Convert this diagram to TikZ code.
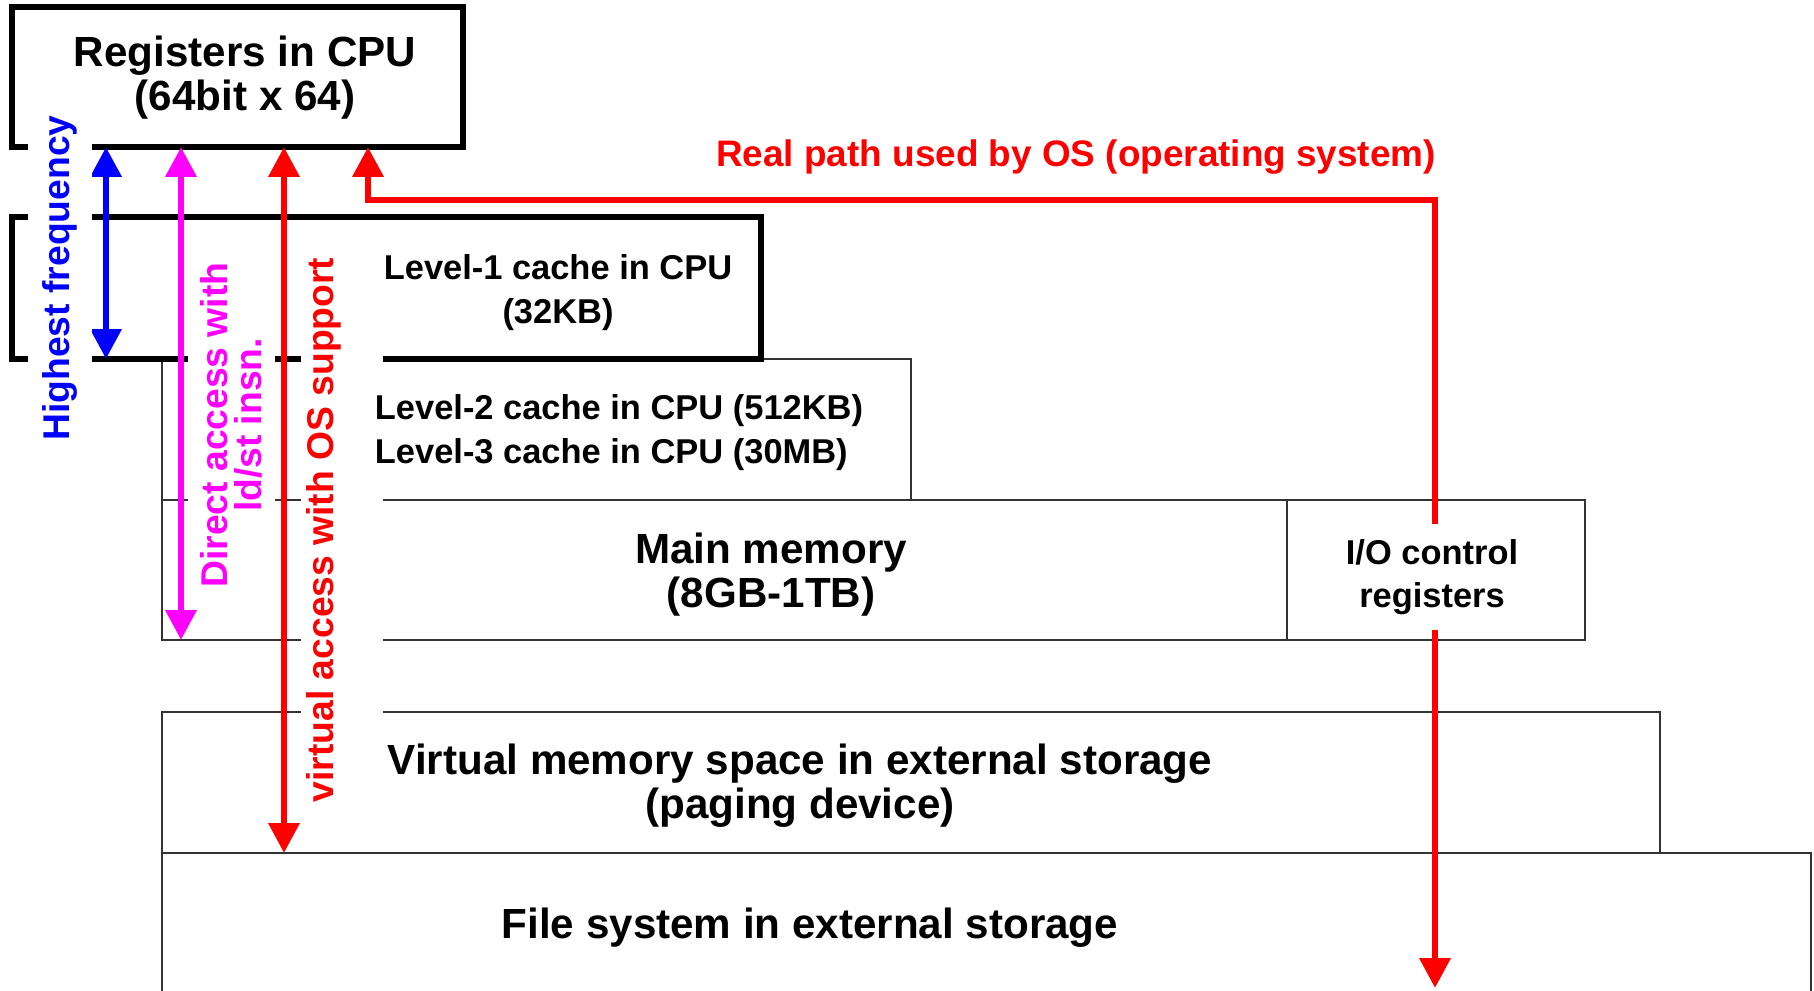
\documentclass[tikz,border=0pt]{standalone}
\usepackage{fontspec}
\setmainfont{Liberation Sans}
\usetikzlibrary{arrows.meta, positioning}
\definecolor{ldstpink}{RGB}{255,0,255}
\definecolor{pathred}{RGB}{255,0,0}
\definecolor{freqblue}{RGB}{0,0,255}

\begin{document}
\begin{tikzpicture}[
  cpubox/.style={draw=black, line width=1.6pt, anchor=north west, inner sep=0pt, outer sep=0pt},
  membox/.style={draw=black!80, line width=0.6pt, anchor=north west, inner sep=0pt, outer sep=0pt},
  bigtxt/.style={font=\fontsize{12}{12.5}\selectfont\bfseries, align=center},
  smalltxt/.style={font=\fontsize{9.8}{12.3}\selectfont\bfseries, align=center},
  sidetxt/.style={font=\fontsize{10.6}{9.6}\selectfont\bfseries, align=center, rotate=90, fill=white, inner xsep=0pt},
  dblarrow/.style={{Triangle[width=8.5pt,length=8.5pt]}-{Triangle[width=8.5pt,length=8.5pt]}, line width=1.9pt}
]

% Frame
\useasboundingbox (0,0) rectangle (18.14,9.90);
\clip (0,0) rectangle (18.14,9.90);

% --- Memory levels (thin boxes) ---
\node[membox, minimum width=7.49cm, minimum height=1.41cm] (l2) at (1.62,6.31) {};
\node[membox, minimum width=11.25cm, minimum height=1.40cm] (mainmem) at (1.62,4.90) {};
\node[membox, minimum width=2.98cm, minimum height=1.40cm] (io) at (12.87,4.90) {};
\node[membox, minimum width=14.98cm, minimum height=1.41cm] (vmem) at (1.62,2.78) {};
\node[membox, minimum width=16.49cm, minimum height=2.00cm] (fsys) at (1.62,1.37) {};

% --- CPU side (thick boxes) ---
\node[cpubox, minimum width=7.49cm, minimum height=1.42cm] (l1) at (0.12,7.73) {};
\node[cpubox, minimum width=4.51cm, minimum height=1.40cm] (regs) at (0.12,9.83) {};

% --- Access paths ---
\coordinate (bluex) at ([xshift=0.94cm]regs.south west);
\coordinate (pinkx) at ([xshift=1.69cm]regs.south west);
\coordinate (redx) at ([xshift=2.72cm]regs.south west);
\coordinate (osx) at ([xshift=3.56cm]regs.south west);
\coordinate (osturn) at (14.35,7.90);
\coordinate (osend) at (14.35,0.02);

\draw[dblarrow, freqblue] (bluex) -- (bluex |- l1.south);
\draw[dblarrow, ldstpink] (pinkx) -- (pinkx |- mainmem.south);
\draw[dblarrow, pathred] (redx) -- (redx |- fsys.north);
\draw[dblarrow, pathred] (osx) |- (osturn) -- (osend);

% rotated labels beside the arrows
\node[sidetxt, text=freqblue, minimum height=0.64cm] (freqtxt) at (0.60,7.12) {Highest frequency};
\node[sidetxt, text=ldstpink, minimum height=0.87cm] (directtxt) at (2.31,5.65) {Direct access with\\ld/st insn.};
\node[sidetxt, text=pathred, anchor=base, text depth=0.45cm, inner ysep=0.05cm] (virttxt) at (3.33,4.60) {virtual access with OS support};

% --- Labels ---
\node[bigtxt] (regstxt) at (2.45,9.12) {Registers in CPU\\(64bit x 64)};
\node[smalltxt] (l1txt) at (5.58,6.975) {Level-1 cache in CPU\\(32KB)};
\node[smalltxt, align=left] (l2txt) at (6.19,5.575) {Level-2 cache in CPU (512KB)\\Level-3 cache in CPU (30MB)};
\node[bigtxt] (maintxt) at (7.71,4.15) {Main memory\\(8GB-1TB)};
\node[smalltxt, fill=white, inner ysep=0.15cm] (iotxt) at (14.32,4.13) {I/O control\\registers};
\node[bigtxt] (vmemtxt) at (8.00,2.04) {Virtual memory space in external storage\\(paging device)};
\node[bigtxt] (fsystxt) at (8.10,0.625) {File system in external storage};
\node[font=\fontsize{10.5}{12}\selectfont\bfseries, text=pathred] (ostxt) at (10.76,8.325) {Real path used by OS (operating system)};

\end{tikzpicture}
\end{document}
